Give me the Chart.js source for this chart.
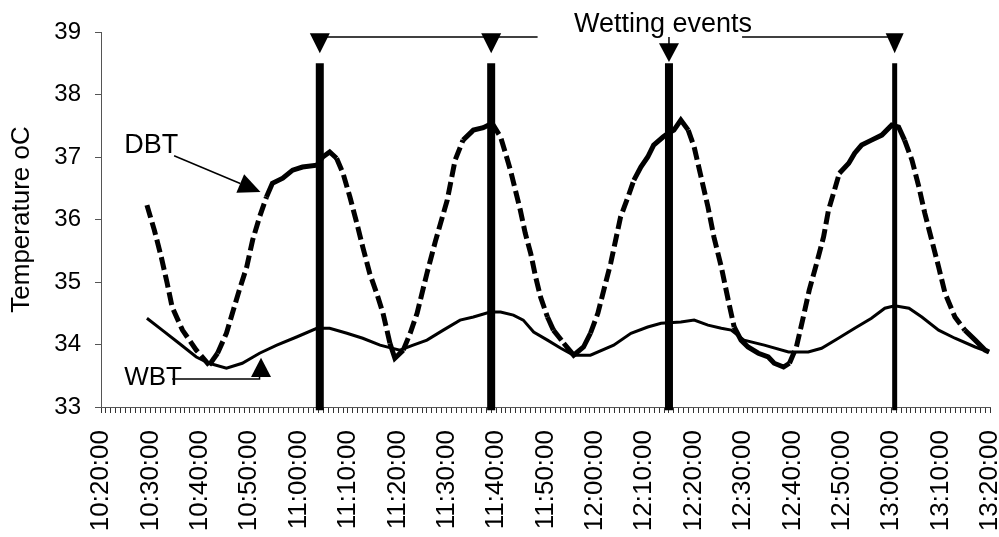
<!DOCTYPE html>
<html>
<head>
<meta charset="utf-8">
<script src="https://cdn.jsdelivr.net/npm/chart.js@4.4.1/dist/chart.umd.min.js"></script>
<style>
  html, body { margin: 0; padding: 0; background: #fff; }
  #wrap { width: 999px; height: 537px; position: relative; }
</style>
</head>
<body>
<div id="wrap"><canvas id="tempChart"></canvas></div>
<script>
// x values are minutes after 10:20:00
const xTickLabels = ['10:20:00', '10:30:00', '10:40:00', '10:50:00', '11:00:00', '11:10:00', '11:20:00',
  '11:30:00', '11:40:00', '11:50:00', '12:00:00', '12:10:00', '12:20:00', '12:30:00', '12:40:00',
  '12:50:00', '13:00:00', '13:10:00', '13:20:00'];

// dry bulb temperature
const dbtMinutes = [9.3, 10.8, 12.2, 13.4, 14.4, 16.5, 19.3, 21.9, 23.6, 25.4, 26.6, 28.0, 29.5, 30.7, 32.1,
  33.5, 34.7, 36.8, 38.8, 40.8, 43.7, 44.9, 46.3, 47.7, 49.0, 50.4, 51.8, 53.0, 54.4, 55.9, 57.1, 58.5, 59.5,
  61.2, 62.6, 64.0, 66.0, 67.7, 70.1, 71.7, 73.3, 75.4, 77.4, 79.2, 80.9, 81.9, 82.9, 83.9, 84.9, 85.9, 87.0,
  88.0, 89.0, 90.4, 91.6, 93.7, 95.7, 97.7, 99.1, 100.6, 101.8, 103.2, 104.2, 105.2, 106.7, 107.9, 109.3,
  110.7, 111.9, 113.8, 114.8, 116.0, 117.4, 118.9, 120.1, 121.5, 122.9, 124.1, 125.6, 127.0, 128.2, 129.6,
  131.0, 133.1, 135.1, 136.3, 138.2, 139.4, 140.8, 142.2, 143.4, 144.9, 146.3, 147.3, 148.5, 149.5, 151.4,
  152.6, 154.0, 156.0, 158.1, 160.1, 161.5, 162.7, 164.2, 165.6, 166.8, 168.2, 169.6, 170.9, 172.9, 174.9,
  177.0, 179.0, 179.8];
const dbtTemp = [36.23, 35.83, 35.40, 34.98, 34.60, 34.23, 33.91, 33.67, 33.86, 34.18, 34.50, 34.87, 35.24,
  35.67, 36.04, 36.36, 36.58, 36.66, 36.79, 36.84, 36.87, 37.00, 37.08, 36.98, 36.74, 36.36, 35.94, 35.56,
  35.14, 34.80, 34.50, 34.02, 33.78, 33.91, 34.18, 34.50, 35.14, 35.65, 36.31, 36.95, 37.27, 37.43, 37.47,
  37.54, 37.32, 37.06, 36.79, 36.47, 36.15, 35.78, 35.46, 35.08, 34.76, 34.44, 34.23, 34.02, 33.83, 33.96,
  34.18, 34.50, 34.87, 35.30, 35.67, 36.04, 36.36, 36.63, 36.84, 37.00, 37.19, 37.32, 37.38, 37.43, 37.59,
  37.43, 37.16, 36.68, 36.20, 35.72, 35.24, 34.71, 34.28, 34.07, 33.96, 33.86, 33.80, 33.70, 33.64, 33.70,
  33.96, 34.44, 34.87, 35.30, 35.72, 36.15, 36.47, 36.74, 36.90, 37.06, 37.19, 37.27, 37.35, 37.51, 37.48,
  37.27, 36.95, 36.52, 36.10, 35.67, 35.24, 34.82, 34.44, 34.23, 34.07, 33.91, 33.88];

// wet bulb temperature
const wbtMinutes = [9.3, 12.4, 15.8, 19.3, 21.9, 25.4, 28.6, 32.1, 35.6, 39.6, 43.7, 46.3, 49.8, 53.0, 56.5,
  60.5, 63.2, 66.0, 69.3, 72.7, 75.4, 78.8, 80.9, 83.5, 85.5, 87.6, 90.4, 93.1, 95.7, 99.1, 103.8, 107.3,
  110.7, 113.4, 117.4, 120.1, 122.9, 125.6, 127.6, 130.2, 134.3, 139.2, 143.2, 145.9, 149.3, 152.6, 156.0,
  158.7, 160.7, 163.6, 166.2, 169.6, 172.9, 177.0, 179.8];
const wbtTemp = [34.42, 34.23, 34.02, 33.80, 33.70, 33.62, 33.70, 33.86, 33.99, 34.12, 34.26, 34.26, 34.18,
  34.10, 33.99, 33.91, 33.99, 34.07, 34.23, 34.39, 34.44, 34.52, 34.52, 34.47, 34.39, 34.20, 34.07, 33.94,
  33.83, 33.83, 33.99, 34.18, 34.28, 34.34, 34.36, 34.39, 34.31, 34.26, 34.23, 34.07, 33.99, 33.88, 33.88,
  33.94, 34.10, 34.26, 34.42, 34.58, 34.62, 34.58, 34.44, 34.23, 34.10, 33.96, 33.88];

// wetting events
const wettingMinutes = [44.3, 79.0, 115.0, 160.7];
const wettingTop = 38.5;

const FONT = '"Liberation Sans", Arial, sans-serif';

function toPoints(xs, ys) {
  return xs.map((x, i) => ({ x: x, y: ys[i] }));
}

// labels and arrows drawn on top, placed in data units
const annotations = {
  id: 'annotations',
  afterDatasetsDraw(chart) {
    const ctx = chart.ctx;
    const X = v => chart.scales.x.getPixelForValue(v);
    const Y = v => chart.scales.y.getPixelForValue(v);
    ctx.save();
    ctx.fillStyle = '#000';
    ctx.strokeStyle = '#000';
    ctx.lineWidth = 1.5;

    function line(pts) {
      ctx.beginPath();
      pts.forEach((p, i) => i ? ctx.lineTo(X(p[0]), Y(p[1])) : ctx.moveTo(X(p[0]), Y(p[1])));
      ctx.stroke();
    }
    function tri(x, yBase, yTip, half) {
      ctx.beginPath();
      ctx.moveTo(X(x) - half, Y(yBase));
      ctx.lineTo(X(x) + half, Y(yBase));
      ctx.lineTo(X(x), Y(yTip));
      ctx.closePath();
      ctx.fill();
    }

    // wetting event markers
    line([[wettingMinutes[0], 38.92], [88.4, 38.92]]);
    line([[129.8, 38.92], [wettingMinutes[3], 38.92]]);
    line([[wettingMinutes[2], 38.92], [wettingMinutes[2], 38.80]]);
    tri(wettingMinutes[0], 38.98, 38.66, 10);
    tri(wettingMinutes[1], 38.98, 38.66, 10);
    tri(wettingMinutes[2], 38.82, 38.52, 10);
    tri(wettingMinutes[3], 38.98, 38.66, 9);

    ctx.font = '27px ' + FONT;
    ctx.textAlign = 'center';
    ctx.textBaseline = 'alphabetic';
    ctx.fillText('Wetting events', X(113.8), Y(39.0));

    // DBT label + arrow
    ctx.textAlign = 'left';
    ctx.font = '27px ' + FONT;
    ctx.fillText('DBT', X(4.7), Y(37.06));
    const x0 = X(14.8), y0 = Y(37.02), x1 = X(32.3), y1 = Y(36.44);
    const ang = Math.atan2(y1 - y0, x1 - x0);
    const len = 22, hw = 10;
    const bx = x1 - len * Math.cos(ang), by = y1 - len * Math.sin(ang);
    ctx.beginPath();
    ctx.moveTo(x0, y0);
    ctx.lineTo(bx, by);
    ctx.stroke();
    ctx.beginPath();
    ctx.moveTo(x1, y1);
    ctx.lineTo(bx + hw * Math.sin(ang), by - hw * Math.cos(ang));
    ctx.lineTo(bx - hw * Math.sin(ang), by + hw * Math.cos(ang));
    ctx.closePath();
    ctx.fill();

    // WBT label + elbow arrow
    ctx.font = '26px ' + FONT;
    ctx.fillText('WBT', X(4.7), Y(33.35));
    line([[14.4, 33.45], [32.1, 33.45], [32.1, 33.49]]);
    tri(32.4, 33.48, 33.79, 10);

    ctx.restore();
  }
};

const wettingSets = wettingMinutes.map((m, i) => ({
  label: 'Wetting ' + (i + 1),
  data: [{ x: m, y: 32.95 }, { x: m, y: wettingTop }],
  borderColor: '#000',
  borderWidth: i < 3 ? 8 : 5,
  pointRadius: 0,
  clip: false
}));

new Chart(document.getElementById('tempChart'), {
  type: 'line',
  data: {
    datasets: wettingSets.concat([
      {
        label: 'WBT',
        data: toPoints(wbtMinutes, wbtTemp),
        borderColor: '#000',
        borderWidth: 3,
        pointRadius: 0,
        tension: 0
      },
      {
        label: 'DBT',
        data: toPoints(dbtMinutes, dbtTemp),
        borderColor: '#000',
        borderWidth: 5,
        pointRadius: 0,
        tension: 0,
        segment: {
          // short jagged steps look solid, long runs show dashes
          borderDash: c => Math.hypot(c.p1.x - c.p0.x, c.p1.y - c.p0.y) < 16 ? [] : [13, 5]
        }
      }
    ])
  },
  options: {
    responsive: true,
    maintainAspectRatio: false,
    animation: false,
    layout: { padding: { top: 32, right: 9, left: 0, bottom: 0 } },
    plugins: { legend: { display: false }, tooltip: { enabled: false } },
    scales: {
      x: {
        type: 'linear',
        min: 0,
        max: 180,
        grid: { drawOnChartArea: false, drawTicks: true, tickLength: 6, color: '#333' },
        border: { display: true, color: '#555', width: 1 },
        ticks: {
          stepSize: 1,
          autoSkip: false,
          minRotation: 90,
          maxRotation: 90,
          padding: 17,
          color: '#000',
          font: { family: FONT, size: 26 },
          callback: v => (v % 10 === 0 ? xTickLabels[v / 10] : '')
        },
        afterFit: s => { s.height = 130; s.paddingLeft = 0; s.paddingRight = 0; }
      },
      y: {
        min: 33,
        max: 39,
        grid: { drawOnChartArea: false, drawTicks: true, tickLength: 6, color: '#555' },
        border: { display: true, color: '#555', width: 1 },
        ticks: {
          stepSize: 1,
          padding: 14,
          color: '#000',
          font: { family: FONT, size: 24 }
        },
        title: {
          display: true,
          text: 'Temperature oC',
          color: '#000',
          font: { family: FONT, size: 26 },
          padding: { top: 6, bottom: 0 }
        },
        afterFit: s => { s.width = 101; s.paddingTop = 0; s.paddingBottom = 0; }
      }
    }
  },
  plugins: [annotations]
});
</script>
</body>
</html>
